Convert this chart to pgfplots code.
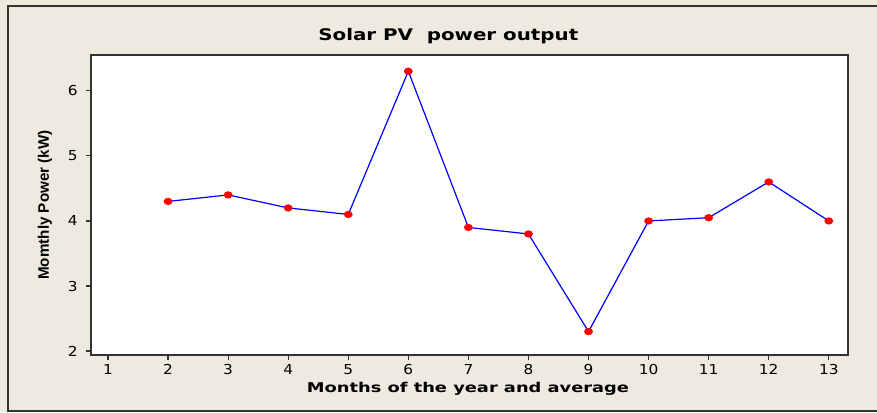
\documentclass[border=0pt]{standalone}
\usepackage{pgfplots}
\pgfplotsset{compat=1.18}
\usepackage{fontspec}
\setmainfont{DejaVu Sans}
\newfontfamily\narrowfont{Liberation Sans}
\definecolor{bgc}{HTML}{EEEAE0}
\definecolor{frm}{HTML}{333333}
\begin{document}
\begin{tikzpicture}
\useasboundingbox (0pt,0pt) rectangle (877pt,412pt);
\fill[bgc] (0pt,0pt) rectangle (877pt,412pt);
\draw[line width=1.2pt, frm] (877pt,1pt) -- (8pt,1pt) -- (8pt,406pt) -- (877pt,406pt);
\begin{axis}[
  at={(91pt,57pt)}, anchor=south west,
  scale only axis, width=757pt, height=300pt,
  xmin=0.717, xmax=13.32, ymin=1.94, ymax=6.55,
  xtick={1,...,13}, ytick={2,...,6},
  tick align=outside, tick pos=left,
  major tick length=5pt,
  axis line style={frm, line width=1.5pt},
  every tick/.style={frm, line width=1.2pt},
  axis background/.style={fill=white},
  /pgf/number format/assume math mode=true,
  tick label style={font=\fontsize{13.7}{15}\selectfont, xscale=1.12},
  xticklabel style={yshift=-1pt},
  yticklabel style={xshift=-4pt},
  title={\scalebox{1.24}[1]{Solar PV\ \ power output}},
  title style={at={([yshift=8pt]rel axis cs:0.472,1)}, anchor=base, font=\fontsize{16}{18}\selectfont\bfseries},
  xlabel={\scalebox{1.32}[1]{Months of the year and average}},
  xlabel style={at={([yshift=-37pt]rel axis cs:0.498,0)}, anchor=base, font=\fontsize{13.5}{16}\selectfont\bfseries},
  ylabel={Momthly Power (kW)},
  ylabel style={at={([xshift=-46pt]rel axis cs:0,0.5)}, anchor=center, rotate=0, font=\fontsize{15.2}{17}\selectfont\narrowfont\bfseries},
]
\addplot[blue, line width=1.2pt, mark=*, mark size=3pt, mark options={red, fill=red, draw=red, xscale=1.25}]
coordinates {
(2,4.3) (3,4.4) (4,4.2) (5,4.1) (6,6.3) (7,3.9) (8,3.8) (9,2.3) (10,4.0) (11,4.05) (12,4.6) (13,4.0)
};
\end{axis}
\end{tikzpicture}
\end{document}
